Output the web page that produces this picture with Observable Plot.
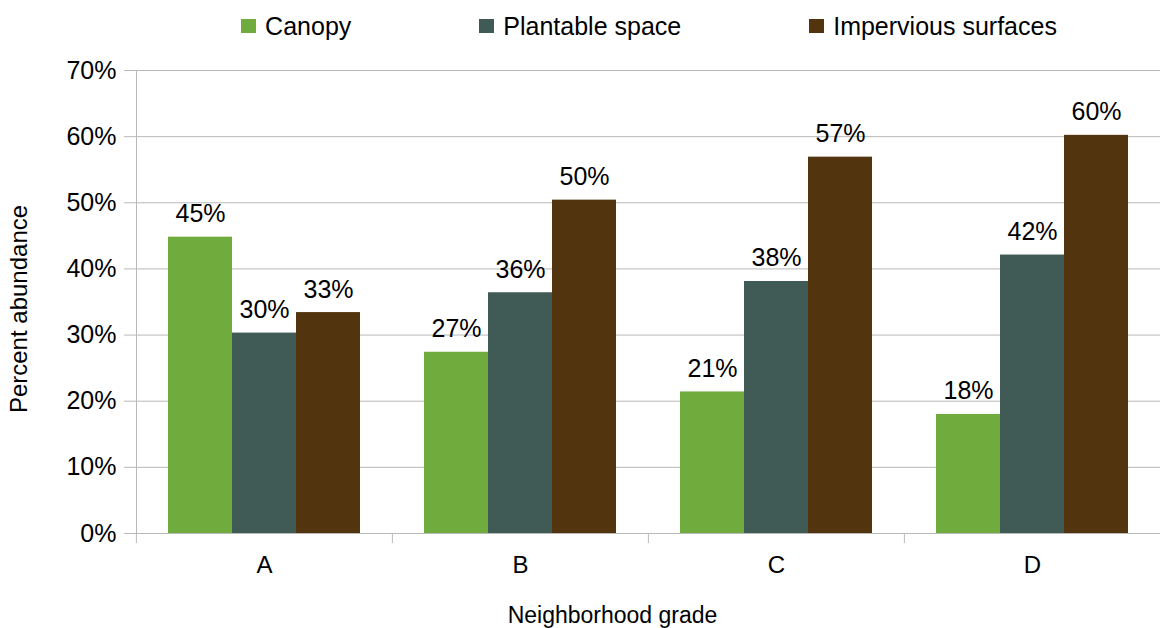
<!DOCTYPE html>
<html>
<head>
<meta charset="utf-8">
<script src="https://cdn.jsdelivr.net/npm/d3@7"></script>
<script src="https://cdn.jsdelivr.net/npm/@observablehq/plot@0.6"></script>
<style>
  html, body { margin: 0; padding: 0; background: #fff; }
  body { width: 1160px; height: 628px; overflow: hidden; font-family: "Liberation Sans", Arial, sans-serif; }
  #legend { height: 48px; display: flex; justify-content: center; align-items: center; gap: 128px; padding-left: 138px; padding-top: 4px; box-sizing: border-box; font-size: 25px; color: #000; }
  .item { display: flex; align-items: center; gap: 9px; }
  .sw { width: 15px; height: 14px; display: inline-block; }
  #chart svg { display: block; }
</style>
</head>
<body>
<div id="legend"></div>
<div id="chart"></div>
<script>
const grades = ["A", "B", "C", "D"];
const series = ["Canopy", "Plantable space", "Impervious surfaces"];
const colors = ["#70AB3D", "#405B56", "#52350F"];
const canopy = [44.8, 27.4, 21.4, 18.0];
const plantable = [30.3, 36.4, 38.1, 42.1];
const impervious = [33.4, 50.4, 56.9, 60.2];
const yTicks = [0, 10, 20, 30, 40, 50, 60, 70];
const xTitle = "Neighborhood grade";
const yTitle = "Percent abundance";

const values = [canopy, plantable, impervious];
const data = [];
grades.forEach((g, gi) => series.forEach((s, si) => data.push({grade: g, series: s, value: values[si][gi]})));

const legend = document.getElementById("legend");
series.forEach((s, i) => {
  const it = document.createElement("div");
  it.className = "item";
  it.innerHTML = `<span class="sw" style="background:${colors[i]}"></span><span>${s}</span>`;
  legend.appendChild(it);
});

const W = 1160, H = 580, mL = 135, mR = 0;
const facetW = (W - mL - mR) / grades.length;
const gray = "#b8b8b8";

const chart = Plot.plot({
  width: W,
  height: H,
  marginLeft: mL,
  marginRight: mR,
  marginTop: 22,
  marginBottom: 95,
  style: {fontFamily: "'Liberation Sans', Arial, sans-serif", color: "#000", background: "#fff"},
  fx: {domain: grades, padding: 0, paddingInner: 0, paddingOuter: 0, axis: null},
  x: {domain: series, paddingInner: 0, paddingOuter: 0.5, axis: null},
  y: {domain: [0, 70], axis: null},
  color: {domain: series, range: colors},
  marks: [
    Plot.gridY(yTicks, {stroke: gray, strokeOpacity: 1}),
    Plot.frame({anchor: "left", facet: "super", stroke: gray}),
    Plot.axisY({ticks: yTicks, tickFormat: d => d + "%", tickSize: 12, tickPadding: 8, stroke: gray, fontSize: 25, fill: "#000", label: null}),
    Plot.axisFx({anchor: "bottom", tickSize: 10, tickFormat: () => "", dx: -facetW / 2, stroke: gray, label: null}),
    Plot.axisFx({anchor: "bottom", tickSize: 0, tickPadding: 22, fontSize: 24, fill: "#000", label: null}),
    Plot.text([yTitle], {facet: "super", frameAnchor: "left", textAnchor: "middle", lineAnchor: "middle", rotate: -90, dx: -117, dy: 7, fontSize: 24, fill: "#000"}),
    Plot.text([xTitle], {facet: "super", frameAnchor: "bottom", textAnchor: "middle", lineAnchor: "middle", dx: -36, dy: 82, fontSize: 23, fill: "#000"}),
    Plot.barY(data, {fx: "grade", x: "series", y: "value", fill: "series"}),
    Plot.text(data, {fx: "grade", x: "series", y: "value", text: d => Math.round(d.value) + "%", dy: -23, fontSize: 25, fill: "#000"})
  ]
});
document.getElementById("chart").appendChild(chart);
</script>
</body>
</html>
